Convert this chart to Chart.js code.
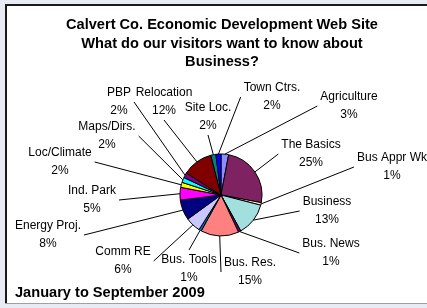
<!DOCTYPE html>
<html>
<head>
<meta charset="utf-8">
<script src="https://cdn.jsdelivr.net/npm/chart.js@4.4.1/dist/chart.umd.min.js"></script>
<style>
  html, body { margin: 0; padding: 0; background: #e9ebf4; }
  canvas { display: block; }
</style>
</head>
<body>
<canvas id="pieChart" width="427" height="308"></canvas>
<script>
// data, clockwise from 12 o'clock
const categories = ['Agriculture', 'The Basics', 'Bus Appr Wk', 'Business', 'Bus. News', 'Bus. Res.',
  'Bus. Tools', 'Comm RE', 'Energy Proj.', 'Ind. Park', 'Loc/Climate', 'Maps/Dirs.', 'PBP',
  'Relocation', 'Site Loc.', 'Town Ctrs.'];
const visits = [3, 25, 1, 13, 1, 15, 1, 6, 8, 5, 2, 2, 2, 12, 2, 2];
const percentLabels = ['3%', '25%', '1%', '13%', '1%', '15%', '1%', '6%', '8%', '5%', '2%', '2%', '2%', '12%', '2%', '2%'];

const titleLines = ['Calvert Co. Economic Development Web Site', 'What do our visitors want to know about', 'Business?'];
const footNote = 'January to September 2009';

// excel style fill colours
const sliceColors = ['#8c8cff', '#7e2262', '#ffffcc', '#a2dfdf', '#660066', '#ff8080', '#0070c0', '#c8c8ff',
  '#000080', '#ff00ff', '#ffff00', '#00ffff', '#800080', '#800000', '#008080', '#0000ff'];

// where each label sits: centre x, y of the name line, side where the leader line attaches
const labelSpots = [
  [349, 97, 'l'], [311, 145, 'l'], [392, 158, 'l'], [327, 202, 'l'], [331, 244, 'l'], [250, 263, 'l'],
  [189, 260, 't'], [123, 252, 'r'], [48, 226, 'r'], [92, 191, 'r'], [60, 153, 'r'], [107, 127, 'r'],
  [119, 93, 'r'], [164, 93, 'b'], [208, 108, 'b'], [272, 88, 'l']
];

const FONT = '"Liberation Sans", Arial, sans-serif';

// background, frame, title and footnote
const framePlugin = {
  id: 'frame',
  beforeDraw(chart) {
    const ctx = chart.ctx;
    ctx.save();
    ctx.fillStyle = '#e9ebf4';
    ctx.fillRect(0, 0, chart.width, chart.height);
    ctx.fillStyle = '#ffffff';
    ctx.fillRect(6, 5, chart.width - 6, 298);
    ctx.fillStyle = '#1a1a1a';
    ctx.fillRect(5, 4, chart.width - 5, 2);
    ctx.fillRect(5, 4, 2, 299);
    ctx.fillStyle = '#a0a0a0';
    ctx.fillRect(5, 303, chart.width - 5, 1);

    ctx.fillStyle = '#000';
    ctx.font = 'bold 14.6px ' + FONT;
    ctx.textAlign = 'center';
    ctx.textBaseline = 'middle';
    titleLines.forEach((t, i) => ctx.fillText(t, 222, 25 + i * 18.5));

    ctx.textAlign = 'left';
    ctx.fillText(footNote, 15, 293);
    ctx.restore();
  }
};

// outside labels with leader lines
const labelPlugin = {
  id: 'outsideLabels',
  afterDatasetsDraw(chart) {
    const ctx = chart.ctx;
    const arcs = chart.getDatasetMeta(0).data;
    ctx.save();
    ctx.font = '12px ' + FONT;
    ctx.textAlign = 'center';
    ctx.textBaseline = 'middle';
    arcs.forEach((arc, i) => {
      const [cx, cy, side] = labelSpots[i];
      const name = categories[i];
      const pct = percentLabels[i];
      const w = Math.max(ctx.measureText(name).width, ctx.measureText(pct).width);
      const top = cy - 8, bottom = cy + 18 + 8;
      let ax, ay;
      if (side === 'l') { ax = cx - w / 2 - 3; ay = (top + bottom) / 2; }
      else if (side === 'r') { ax = cx + w / 2 + 3; ay = (top + bottom) / 2; }
      else if (side === 't') { ax = cx; ay = top - 2; }
      else { ax = cx; ay = bottom + 1; }

      const p = arc.getProps(['x', 'y', 'startAngle', 'endAngle', 'outerRadius'], true);
      const mid = (p.startAngle + p.endAngle) / 2;
      const ex = p.x + Math.cos(mid) * p.outerRadius;
      const ey = p.y + Math.sin(mid) * p.outerRadius;

      ctx.strokeStyle = '#000';
      ctx.lineWidth = 1;
      ctx.beginPath();
      ctx.moveTo(ax, ay);
      ctx.lineTo(ex, ey);
      ctx.stroke();

      ctx.fillStyle = '#000';
      ctx.fillText(name, cx, cy);
      ctx.fillText(pct, cx, cy + 18);
    });
    ctx.restore();
  }
};

function createPieChart() {
  const ctx = document.getElementById('pieChart').getContext('2d');
  new Chart(ctx, {
    type: 'pie',
    data: {
      labels: categories,
      datasets: [{
        data: visits,
        backgroundColor: sliceColors,
        borderColor: '#000',
        borderWidth: 1
      }]
    },
    options: {
      responsive: false,
      animation: false,
      devicePixelRatio: 1,
      radius: 41,
      layout: { padding: { left: 120, right: 105, top: 150, bottom: 68 } },
      plugins: {
        legend: { display: false },
        tooltip: { enabled: false },
        title: { display: false }
      }
    },
    plugins: [framePlugin, labelPlugin]
  });
}

window.onload = createPieChart;
</script>
</body>
</html>
